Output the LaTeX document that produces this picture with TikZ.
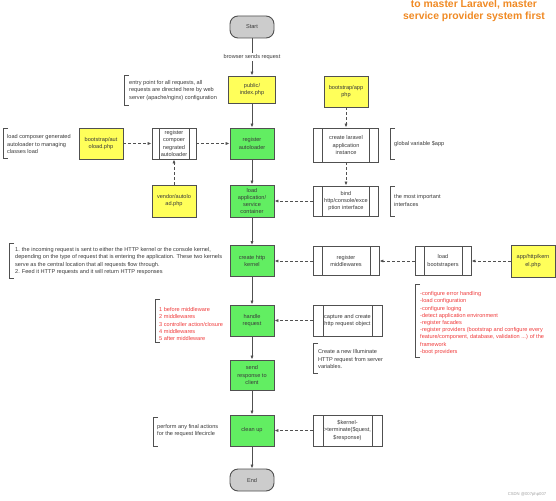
\documentclass[tikz,border=0pt]{standalone}
\usepackage{fontspec}
\setmainfont{Liberation Sans}
\usetikzlibrary{arrows.meta}
\definecolor{yel}{HTML}{FFFF5A}
\definecolor{grn}{HTML}{62EE62}
\definecolor{gry}{HTML}{CCCCCC}
\definecolor{linec}{HTML}{505050}
\definecolor{txt}{HTML}{3A3A3A}
\definecolor{redt}{HTML}{F03C3C}
\definecolor{org}{HTML}{F08A24}
\begin{document}
\begin{tikzpicture}[x=1pt,y=-1pt,
  base/.style={draw=linec, line width=0.9pt, align=center, inner sep=0pt, text=txt,
    font=\fontsize{5.6}{7.1}\selectfont, minimum width=44pt, minimum height=31pt},
  ybox/.style={base, fill=yel},
  gbox/.style={base, fill=grn},
  tbox/.style={base, fill=gry, rounded corners=8pt, minimum height=22pt},
  pbox/.style={base, fill=white, path picture={
      \draw[linec, line width=0.9pt] ([xshift=#1]path picture bounding box.north west) -- ([xshift=#1]path picture bounding box.south west);
      \draw[linec, line width=0.9pt] ([xshift=-#1]path picture bounding box.north east) -- ([xshift=-#1]path picture bounding box.south east);}},
  pbox/.default=9pt,
  note/.style={align=left, anchor=west, inner sep=0pt, text=txt, font=\fontsize{5.6}{7.2}\selectfont},
  rnote/.style={note, text=redt},
  brk/.style={draw=linec, line width=0.9pt},
  arr/.style={draw=linec, line width=0.9pt, -{Latex[length=4pt,width=3.2pt]}},
  darr/.style={arr, dash pattern=on 3pt off 2pt}
]
\useasboundingbox (0,0) rectangle (556,500);
\fill[white] (0,0) rectangle (556,500);

% title
\node[align=center, text=org, font=\bfseries\fontsize{10.4}{12}\selectfont, inner sep=0pt] (title) at (474,11)
  {to master Laravel, master\\service provider system first};

% main column
\node[tbox] (start) at (252,27) {Start};
\node[ybox, minimum width=47pt, minimum height=27pt] (pub) at (252,89.5) {public/\\index.php};
\node[gbox] (rega) at (252,143.5) {register\\autoloader};
\node[gbox, minimum height=32pt] (loadapp) at (252,201) {load\\application/\\service\\container};
\node[gbox] (kern) at (252,261) {create http\\kernel};
\node[gbox] (handle) at (252,320.5) {handle\\request};
\node[gbox, minimum height=30pt] (send) at (252,375) {send\\response to\\client};
\node[gbox] (clean) at (252,430.5) {clean up};
\node[tbox] (end) at (252,480) {End};

% left side
\node[ybox] (baut) at (101,143.5) {bootstrap/aut\\oload.php};
\node[pbox=7pt] (regc) at (174,143.5) {register\\compoer\\negrated\\autoloader};
\node[ybox, minimum height=32pt] (vend) at (174,201) {vendor/autolo\\ad.php};

% right side
\node[ybox] (bapp) at (346,91.5) {bootstrap/app\\php};
\node[pbox, minimum width=65pt, minimum height=34pt] (create) at (346,145) {create laravel\\application\\instance};
\node[pbox, minimum width=65pt, minimum height=30pt] (bind) at (346,201) {bind\\http/console/exce\\ption interface};
\node[pbox, minimum width=66pt, minimum height=29pt] (regm) at (346,261) {register\\middlewares};
\node[pbox, minimum width=56pt, minimum height=29pt] (loadb) at (443,261) {load\\bootstrapers};
\node[ybox, minimum height=32pt] (ahk) at (533,261) {app/http/kern\\el.php};
\node[pbox=10pt, minimum width=69pt] (capture) at (347.5,320.5) {capture and create\\http request object};
\node[pbox=10pt, minimum width=69pt] (term) at (347.5,430.5) {\$kernel-\\>terminate(\$quest,\\\$response)};

% connectors
\draw[arr] (start) -- node[fill=white, inner sep=1pt, text=txt, font=\fontsize{5.6}{7}\selectfont] {browser sends request} (pub);
\draw[arr] (pub) -- (rega);
\draw[arr] (rega) -- (loadapp);
\draw[arr] (loadapp) -- (kern);
\draw[arr] (kern) -- (handle);
\draw[arr] (handle) -- (send);
\draw[arr] (send) -- (clean);
\draw[arr] (clean) -- (end);
\draw[darr] (baut) -- (regc);
\draw[darr] (regc) -- (rega);
\draw[darr] (vend) -- (regc);
\draw[darr] (bapp) -- (create);
\draw[darr] (create) -- (bind);
\draw[darr] (bind) -- (loadapp);
\draw[darr] (regm) -- (kern);
\draw[darr] (loadb) -- (regm);
\draw[darr] (ahk) -- (loadb);
\draw[darr] (capture) -- (handle);
\draw[darr] (term) -- (clean);

% annotations
\draw[brk] (129,75) -- (124,75) -- (124,105) -- (129,105);
\node[note] (n1) at (129,90.5) {entry point for all requests, all\\requests are directed here by web\\server (apache/nginx) configuration};
\draw[brk] (8,128) -- (3,128) -- (3,158) -- (8,158);
\node[note] (n2) at (7,144) {load composer generated\\autoloader to managing\\classes load};
\draw[brk] (395,128) -- (390,128) -- (390,159) -- (395,159);
\node[note] (n3) at (394,144) {global variable \$app};
\draw[brk] (395,186) -- (390,186) -- (390,216) -- (395,216);
\node[note] (n4) at (394,200.5) {the most important\\interfaces};
\draw[brk] (14,243) -- (9,243) -- (9,278) -- (14,278);
\node[note] (n5) at (15,261) {1. the incoming request is sent to either the HTTP kernel or the console kernel,\\depending on the type of request that is entering the application. These two kernels\\serve as the central location that all requests flow through.\\2. Feed it HTTP requests and it will return HTTP responses};
\draw[brk] (160,299) -- (155,299) -- (155,342) -- (160,342);
\node[rnote] (n6) at (159,324) {1 before middleware\\2 middlewares\\3 controller action/closure\\4 middlewares\\5 after middleware};
\draw[brk] (420,284) -- (415,284) -- (415,357) -- (420,357);
\node[rnote] (n7) at (420,323) {-configure error handling\\-load configuration\\-configure loging\\-detect application environment\\-register facades\\-register providers (bootstrap and configure every\\feature/component, database, validation ...) of the\\framework\\-boot providers};
\draw[brk] (318,343) -- (313,343) -- (313,373) -- (318,373);
\node[note] (n8) at (318,359) {Create a new Illuminate\\HTTP request from server\\variables.};
\draw[brk] (158,417) -- (153,417) -- (153,446) -- (158,446);
\node[note] (n9) at (157,430.5) {perform any final actions\\for the request lifecircle};

\node[text=gry!80!black, font=\fontsize{4.2}{5}\selectfont, inner sep=0pt] (wm) at (527,494) {CSDN @007php007};
\end{tikzpicture}
\end{document}
